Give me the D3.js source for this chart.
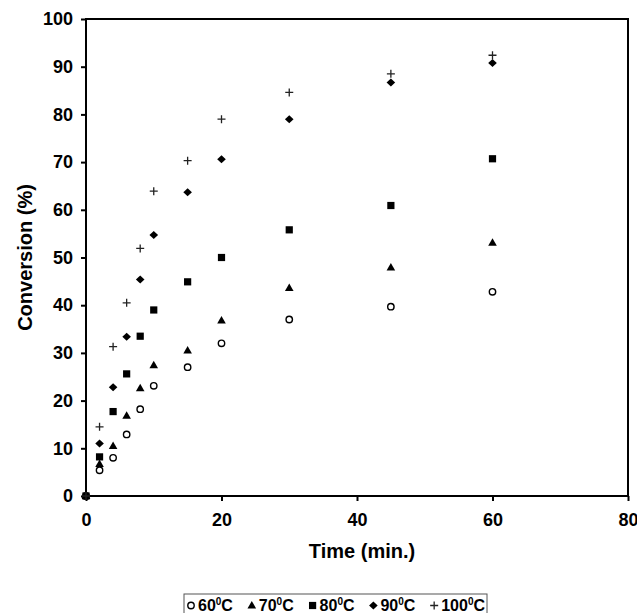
<!DOCTYPE html>
<html>
<head>
<meta charset="utf-8">
<script src="https://cdnjs.cloudflare.com/ajax/libs/d3/7.8.5/d3.min.js"></script>
<style>
  body { margin: 0; background: #fff; }
  svg text { font-family: "Liberation Sans", Arial, sans-serif; font-weight: bold; fill: #000; }
</style>
</head>
<body>
<svg id="chart" width="637" height="613"></svg>
<script>
// donnees
var times   = [0, 2, 4, 6, 8, 10, 15, 20, 30, 45, 60];
var conv60  = [0, 5.4, 8.0, 12.9, 18.2, 23.1, 27.0, 32.0, 37.0, 39.7, 42.8];
var conv70  = [0, 6.7, 10.5, 16.8, 22.6, 27.4, 30.5, 36.8, 43.6, 47.9, 53.1];
var conv80  = [0, 8.2, 17.7, 25.6, 33.5, 39.0, 44.9, 50.0, 55.8, 60.9, 70.7];
var conv90  = [0, 11.0, 22.8, 33.4, 45.4, 54.7, 63.7, 70.6, 79.0, 86.7, 90.8];
var conv100 = [0, 14.5, 31.3, 40.5, 51.9, 63.9, 70.3, 79.0, 84.6, 88.5, 92.4];
var seriesNames = ["60", "70", "80", "90", "100"];
var xTicks = [0, 20, 40, 60, 80];
var yTicks = [0, 10, 20, 30, 40, 50, 60, 70, 80, 90, 100];

let svg = d3.select("#chart");
let mLeft = 86, mRight = 628, mTop = 19, mBottom = 496;

let x = d3.scaleLinear().domain([0, 80]).range([mLeft, mRight]);
let y = d3.scaleLinear().domain([0, 100]).range([mBottom, mTop]);

let series = [
    {name: seriesNames[0], values: conv60, shape: "circle"},
    {name: seriesNames[1], values: conv70, shape: "triangle"},
    {name: seriesNames[2], values: conv80, shape: "square"},
    {name: seriesNames[3], values: conv90, shape: "diamond"},
    {name: seriesNames[4], values: conv100, shape: "plus"}
];

function drawMarker(g, shape, cx, cy){
    if (shape === "circle"){
        g.append("circle").attr("cx", cx).attr("cy", cy).attr("r", 3.2)
            .attr("fill", "#fff").attr("stroke", "#000").attr("stroke-width", 1.4);
    } else if (shape === "triangle"){
        g.append("path").attr("d", "M" + cx + "," + (cy - 4.5) + "L" + (cx + 4.3) + "," + (cy + 3) + "L" + (cx - 4.3) + "," + (cy + 3) + "Z")
            .attr("fill", "#000");
    } else if (shape === "square"){
        g.append("rect").attr("x", cx - 3.6).attr("y", cy - 3.6).attr("width", 7.2).attr("height", 7.2)
            .attr("fill", "#000");
    } else if (shape === "diamond"){
        g.append("path").attr("d", "M" + cx + "," + (cy - 4) + "L" + (cx + 4.3) + "," + cy + "L" + cx + "," + (cy + 4) + "L" + (cx - 4.3) + "," + cy + "Z")
            .attr("fill", "#000");
    } else {
        g.append("path").attr("d", "M" + (cx - 4) + "," + cy + "H" + (cx + 4) + "M" + cx + "," + (cy - 4) + "V" + (cy + 4))
            .attr("stroke", "#222").attr("stroke-width", 1.3).attr("fill", "none");
    }
}

// axes
let xAxis = svg.append("g")
    .attr("transform", "translate(0," + mBottom + ")")
    .call(d3.axisBottom(x).tickValues(xTicks).tickSize(5).tickSizeOuter(0).tickPadding(12));
let yAxis = svg.append("g")
    .attr("transform", "translate(" + mLeft + ",0)")
    .call(d3.axisLeft(y).tickValues(yTicks).tickSize(5).tickSizeOuter(0).tickPadding(8));
[xAxis, yAxis].forEach(a => {
    a.select(".domain").remove();
    a.selectAll(".tick line").attr("stroke", "#000").attr("stroke-width", 2);
    a.selectAll("text").style("font-size", "18px");
});

// cadre
svg.append("rect")
    .attr("x", mLeft).attr("y", mTop)
    .attr("width", mRight - mLeft).attr("height", mBottom - mTop)
    .attr("fill", "none").attr("stroke", "#000").attr("stroke-width", 2);

// points
let pts = svg.append("g");
for (let s of series){
    s.values.forEach((v, i) => drawMarker(pts, s.shape, x(times[i]), y(v)));
}

// titres
svg.append("text")
    .attr("transform", "translate(32," + ((mTop + mBottom) / 2) + ") rotate(-90)")
    .attr("text-anchor", "middle")
    .style("font-size", "20px")
    .text("Conversion (%)");
svg.append("text")
    .attr("x", 362).attr("y", 558)
    .attr("text-anchor", "middle")
    .style("font-size", "20px")
    .text("Time (min.)");

// legende
let leg = svg.append("g");
let legY = 611;
let texts = [];
for (let s of series){
    let t = leg.append("text").attr("y", legY).style("font-size", "16px");
    t.append("tspan").text(s.name);
    t.append("tspan").attr("dy", -6).style("font-size", "10px").text("0");
    t.append("tspan").attr("dy", 6).text("C");
    texts.push({s: s, t: t, w: t.node().getComputedTextLength()});
}
let startX = 191, endX = 485, markGap = 7;
let tw = d3.sum(texts, d => d.w);
let gap = (endX - startX - tw - markGap * texts.length) / (texts.length - 1);
let cur = startX;
texts.forEach((d, i) => {
    drawMarker(leg, d.s.shape, cur, legY - 5.5);
    d.t.attr("x", cur + markGap);
    cur = cur + markGap + d.w + gap;
});
leg.append("rect")
    .attr("x", startX - 7).attr("y", 594)
    .attr("width", endX + 2 - (startX - 7)).attr("height", 22)
    .attr("fill", "none").attr("stroke", "#555").attr("stroke-width", 1);
</script>
</body>
</html>
